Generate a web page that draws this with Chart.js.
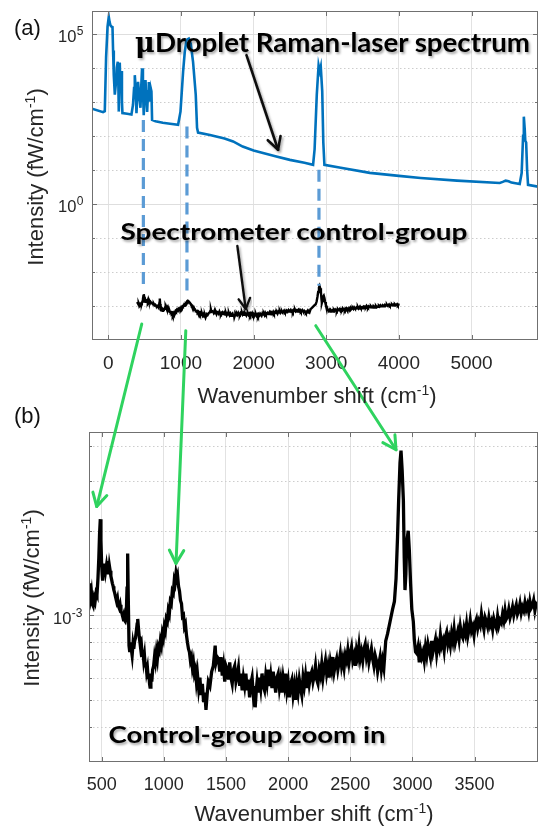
<!DOCTYPE html>
<html>
<head>
<meta charset="utf-8">
<script src="https://cdn.jsdelivr.net/npm/chart.js@4.4.1/dist/chart.umd.min.js"></script>
<style>
  html, body { margin: 0; padding: 0; background: #fff; }
  #wrap { position: relative; width: 540px; height: 828px; overflow: hidden; }
  #wrap canvas { position: absolute; left: 0; }
  #cA { top: 0; }
  #cB { top: 420px; }
  #overlay { position: absolute; left: 0; top: 0; pointer-events: none; }
</style>
</head>
<body>
<div id="wrap">
  <canvas id="cA" width="540" height="420"></canvas>
  <canvas id="cB" width="540" height="408"></canvas>
  <svg id="overlay" xmlns="http://www.w3.org/2000/svg" width="540" height="828">
    <defs>
      <filter id="shadow" x="-10%" y="-40%" width="125%" height="190%">
        <feDropShadow dx="1.5" dy="2" stdDeviation="1.2" flood-color="#000" flood-opacity="0.35"/>
      </filter>
    </defs>
  </svg>
</div>
<script>
// ---- data ----
// (a) microdroplet Raman-laser spectrum, wavenumber shift (cm^-1) and intensity (fW/cm^-1)
const dropletWn = [-224, -72, -48, -30, -10, 7, 18, 30, 45, 58, 66, 76, 90, 103, 117, 131, 138, 145, 152, 158,
  165, 172, 180, 188, 195, 260, 319, 340, 355, 365, 377, 388, 400, 410, 425, 443, 455, 465, 477, 488,
  500, 512, 523, 535, 547, 558, 570, 585, 594, 603, 650, 750, 850, 961, 994, 1030, 1053, 1076, 1090, 1108,
  1120, 1135, 1167, 1204, 1222, 1236, 1400, 1600, 1718, 1850, 2000, 2130, 2300, 2500, 2700, 2819, 2840, 2870, 2895, 2912,
  2925, 2945, 2960, 2975, 3200, 3600, 4000, 4300, 4800, 5388, 5430, 5470, 5510, 5550, 5663, 5690, 5710, 5720, 5732, 5740,
  5752, 5765, 5778, 5915];
const dropletIntensity = [620, 490, 525, 2.0e4, 1.6e5, 3.1e5, 2.2e5, 1.74e5, 1.6e5, 1.55e5, 3.2e4, 6000, 1600, 3100, 1.0e4, 1.48e4, 4000, 510, 3200, 1.4e4,
  4000, 2500, 7900, 1000, 460, 440, 420, 800, 2500, 6000, 2500, 460, 1600, 3800, 1600, 660, 3200, 9500, 2500, 400,
  1600, 4300, 1600, 500, 2000, 3800, 1000, 2450, 2000, 290, 265, 240, 225, 210, 510, 7600, 2.9e4, 6.3e4, 6.8e4, 7.1e4,
  6.0e4, 5.1e4, 1.48e4, 1600, 170, 123, 105, 83, 68, 48, 37, 31, 25, 19.5, 16, 14, 40, 1600, 1.17e4, 7900,
  1.05e4, 2000, 63, 14, 11.5, 8.1, 6.6, 5.75, 4.8, 4.1, 4.4, 4.8, 4.6, 4.2, 3.8, 8, 100, 363, 160, 71,
  63, 10, 3.6, 3.2];

// spectrometer control-group (same trace in (a) and zoomed in (b)), intensity in units of 1e-3 fW/cm^-1
const ctrlWn = [
  398, 405, 412, 418, 425, 432, 440, 447, 455, 462,
  470, 477, 483, 489, 494, 499, 504, 508, 514, 520,
  526, 532, 538, 544, 550, 556, 562, 568, 574, 580,
  586, 592, 598, 605, 612, 620, 627, 634, 641, 648,
  655, 662, 669, 676, 683, 690, 697, 704, 709, 714,
  720, 726, 732, 738, 745, 752, 758, 765, 772, 779,
  785, 790, 796, 802, 808, 814, 820, 826, 832, 838,
  844, 850, 856, 862, 868, 874, 880, 885, 889, 896,
  903, 910, 918, 925, 932, 940, 948, 956, 964, 972,
  980, 988, 996, 1004, 1012, 1020, 1028, 1036, 1044, 1052,
  1060, 1068, 1076, 1084, 1090, 1098, 1104, 1110, 1118, 1126,
  1134, 1142, 1150, 1158, 1166, 1174, 1182, 1190, 1198, 1206,
  1214, 1222, 1230, 1238, 1246, 1254, 1262, 1270, 1280, 1290,
  1300, 1310, 1320, 1330, 1339, 1348, 1358, 1371, 1385, 1398,
  1406, 1413, 1420, 1430, 1440, 1450, 1460, 1470, 1480, 1490,
  1500, 1510, 1520, 1530, 1540, 1550, 1560, 1570, 1580, 1590,
  1600, 1610, 1620, 1630, 1640, 1650, 1660, 1670, 1680, 1690,
  1700, 1710, 1720, 1730, 1735, 1745, 1750, 1760, 1770, 1780,
  1790, 1800, 1810, 1820, 1830, 1840, 1850, 1860, 1870, 1880,
  1890, 1900, 1910, 1920, 1930, 1940, 1950, 1960, 1970, 1980,
  1990, 2000, 2010, 2020, 2030, 2040, 2050, 2060, 2070, 2080,
  2090, 2100, 2110, 2120, 2130, 2140, 2150, 2160, 2170, 2180,
  2190, 2200, 2210, 2220, 2230, 2240, 2250, 2260, 2270, 2280,
  2290, 2300, 2310, 2320, 2330, 2340, 2350, 2360, 2370, 2380,
  2390, 2400, 2410, 2420, 2430, 2440, 2450, 2460, 2470, 2480,
  2490, 2500, 2510, 2520, 2530, 2540, 2550, 2560, 2570, 2580,
  2590, 2600, 2610, 2620, 2630, 2640, 2650, 2660, 2670, 2680,
  2690, 2700, 2710, 2720, 2730, 2740, 2750, 2760, 2770, 2785,
  2800, 2820, 2840, 2855, 2868, 2880, 2889, 2900, 2908, 2917,
  2927, 2934, 2940, 2947, 2954, 2966, 2975, 2985, 2995, 3007,
  3015, 3025, 3035, 3045, 3055, 3065, 3075, 3085, 3095, 3105,
  3115, 3125, 3135, 3145, 3155, 3165, 3175, 3185, 3195, 3205,
  3215, 3225, 3235, 3245, 3255, 3265, 3275, 3285, 3295, 3305,
  3315, 3325, 3335, 3345, 3355, 3365, 3375, 3385, 3395, 3405,
  3415, 3425, 3435, 3445, 3455, 3465, 3475, 3485, 3495, 3505,
  3515, 3525, 3535, 3545, 3555, 3565, 3575, 3585, 3595, 3605,
  3615, 3625, 3635, 3645, 3655, 3665, 3675, 3685, 3695, 3705,
  3715, 3725, 3735, 3745, 3755, 3765, 3775, 3785, 3795, 3805,
  3815, 3825, 3835, 3845, 3855, 3865, 3875, 3885, 3895, 3905,
  3915, 3925, 3935, 3945, 3955, 3965, 3975, 3985, 3995, 4010];
const ctrlIntensityMilli = [
  1.30, 1.22, 1.15, 1.20, 1.10, 1.08, 1.15, 1.12, 1.20, 1.18,
  1.35, 1.60, 1.95, 2.20, 1.85, 1.55, 1.40, 1.33, 1.48, 1.40,
  1.53, 1.44, 1.50, 1.42, 1.56, 1.40, 1.50, 1.44, 1.38, 1.34,
  1.30, 1.27, 1.23, 1.20, 1.16, 1.12, 1.15, 1.08, 1.06, 1.09,
  1.03, 1.02, 0.99, 1.01, 0.96, 0.95, 0.98, 1.25, 1.66, 1.15,
  0.78, 0.74, 0.80, 0.76, 0.72, 0.79, 0.76, 0.81, 0.83, 0.88,
  0.93, 0.97, 0.90, 0.84, 0.80, 0.76, 0.78, 0.72, 0.74, 0.69,
  0.72, 0.66, 0.68, 0.63, 0.65, 0.60, 0.62, 0.57, 0.555, 0.62,
  0.58, 0.64, 0.66, 0.71, 0.68, 0.74, 0.70, 0.77, 0.75, 0.81,
  0.78, 0.86, 0.83, 0.91, 0.88, 0.97, 0.95, 1.04, 1.01, 1.12,
  1.10, 1.22, 1.20, 1.33, 1.30, 1.41, 1.36, 1.39, 1.27, 1.22,
  1.13, 1.10, 0.99, 1.00, 0.91, 0.93, 0.85, 0.80, 0.76, 0.74,
  0.69, 0.71, 0.65, 0.68, 0.62, 0.64, 0.58, 0.62, 0.55, 0.60,
  0.52, 0.57, 0.49, 0.53, 0.46, 0.52, 0.58, 0.56, 0.63, 0.66,
  0.72, 0.78, 0.68, 0.71, 0.70, 0.63, 0.71, 0.61, 0.66, 0.58,
  0.66, 0.64, 0.59, 0.68, 0.60, 0.57, 0.64, 0.66, 0.58, 0.61,
  0.65, 0.56, 0.62, 0.54, 0.60, 0.56, 0.62, 0.54, 0.59, 0.51,
  0.57, 0.60, 0.52, 0.56, 0.47, 0.55, 0.58, 0.53, 0.60, 0.55,
  0.62, 0.56, 0.54, 0.61, 0.57, 0.64, 0.56, 0.61, 0.55, 0.63,
  0.58, 0.53, 0.60, 0.62, 0.55, 0.59, 0.53, 0.60, 0.56, 0.62,
  0.54, 0.58, 0.51, 0.57, 0.59, 0.52, 0.56, 0.50, 0.57, 0.53,
  0.59, 0.55, 0.52, 0.60, 0.56, 0.61, 0.55, 0.63, 0.57, 0.61,
  0.63, 0.58, 0.61, 0.66, 0.59, 0.57, 0.64, 0.61, 0.67, 0.60,
  0.65, 0.69, 0.62, 0.66, 0.60, 0.68, 0.64, 0.71, 0.63, 0.67,
  0.70, 0.64, 0.68, 0.73, 0.66, 0.70, 0.65, 0.72, 0.69, 0.75,
  0.68, 0.73, 0.77, 0.69, 0.72, 0.66, 0.75, 0.71, 0.78, 0.70,
  0.74, 0.69, 0.76, 0.79, 0.71, 0.75, 0.68, 0.72, 0.76, 0.70,
  0.66, 0.72, 0.69, 0.63, 0.67, 0.71, 0.64, 0.69, 0.65, 0.81,
  0.86, 0.95, 1.05, 1.12, 1.35, 1.90, 2.57, 3.50, 3.86, 3.30,
  2.57, 1.60, 1.23, 1.40, 1.82, 2.00, 1.70, 1.30, 1.05, 0.95,
  0.82, 0.74, 0.73, 0.77, 0.68, 0.75, 0.71, 0.74, 0.69, 0.77,
  0.72, 0.79, 0.75, 0.71, 0.81, 0.74, 0.78, 0.82, 0.73, 0.79,
  0.76, 0.85, 0.78, 0.81, 0.75, 0.84, 0.87, 0.79, 0.83, 0.78,
  0.86, 0.81, 0.89, 0.80, 0.84, 0.88, 0.82, 0.91, 0.85, 0.83,
  0.90, 0.86, 0.93, 0.84, 0.89, 0.96, 0.88, 0.91, 0.85, 0.94,
  0.97, 0.90, 0.95, 0.92, 1.01, 0.94, 0.89, 0.98, 0.95, 0.91,
  0.98, 0.92, 0.95, 0.89, 0.97, 0.93, 0.90, 0.99, 0.92, 0.96,
  0.94, 1.01, 0.96, 1.04, 0.97, 0.99, 1.05, 0.98, 1.02, 1.07,
  1.00, 1.05, 1.09, 1.01, 1.04, 1.10, 1.02, 1.07, 1.04, 1.11,
  1.05, 1.09, 1.03, 1.12, 1.06, 1.08, 1.13, 1.04, 1.10, 1.08];

// axis ticks
const xTicksA = [0, 1000, 2000, 3000, 4000, 5000];
const yMajorA = [1, 1e5];
const yMinorA = [1e-3, 1e-2, 1e-1, 10, 100, 1e3, 1e4];
const xTicksB = [500, 1000, 1500, 2000, 2500, 3000, 3500];
const yMajorB = [1e-3];
const yMinorB = [4e-4, 5e-4, 6e-4, 7e-4, 8e-4, 9e-4, 2e-3, 3e-3, 4e-3];

// annotation anchors (in data units)
const guideWn = [483, 1083, 2900];
const guideTop = [288, 186, 10];
const guideBottom = [3.2e-3, 2.75e-3, 3.9e-3];

const AXIS_FONT = '"Liberation Sans", Arial, Helvetica, sans-serif';
const TEXT_COLOR = '#262626';

function toPoints(xs, ys, scale) {
  return xs.map(function(x, i) { return { x: x, y: ys[i] * scale }; });
}

// MATLAB-like box, inward ticks, log grid and 10^n tick labels
function makeAxesPlugin(majorY, minorY, labelGap) {
  return {
    id: 'matlabAxes',
    beforeDatasetsDraw: function(chart) {
      var ctx = chart.ctx, a = chart.chartArea, y = chart.scales.y;
      ctx.save();
      ctx.lineWidth = 1;
      ctx.strokeStyle = '#cdcdcd';
      ctx.setLineDash([1.5, 2.5]);
      minorY.forEach(function(v) {
        var py = Math.round(y.getPixelForValue(v)) + 0.5;
        ctx.beginPath(); ctx.moveTo(a.left, py); ctx.lineTo(a.right, py); ctx.stroke();
      });
      ctx.setLineDash([]);
      ctx.strokeStyle = '#dedede';
      majorY.forEach(function(v) {
        var py = Math.round(y.getPixelForValue(v)) + 0.5;
        ctx.beginPath(); ctx.moveTo(a.left, py); ctx.lineTo(a.right, py); ctx.stroke();
      });
      ctx.restore();
    },
    afterDatasetsDraw: function(chart) {
      var ctx = chart.ctx, a = chart.chartArea, x = chart.scales.x, y = chart.scales.y;
      ctx.save();
      ctx.strokeStyle = '#707070';
      ctx.lineWidth = 1;
      ctx.strokeRect(a.left + 0.5, a.top + 0.5, a.right - a.left - 1, a.bottom - a.top - 1);
      ctx.beginPath();
      x.ticks.forEach(function(t) {
        var px = Math.round(x.getPixelForValue(t.value)) + 0.5;
        ctx.moveTo(px, a.bottom); ctx.lineTo(px, a.bottom - 5);
        ctx.moveTo(px, a.top); ctx.lineTo(px, a.top + 5);
      });
      majorY.forEach(function(v) {
        var py = Math.round(y.getPixelForValue(v)) + 0.5;
        ctx.moveTo(a.left, py); ctx.lineTo(a.left + 5, py);
        ctx.moveTo(a.right, py); ctx.lineTo(a.right - 5, py);
      });
      minorY.forEach(function(v) {
        var py = Math.round(y.getPixelForValue(v)) + 0.5;
        ctx.moveTo(a.left, py); ctx.lineTo(a.left + 3, py);
        ctx.moveTo(a.right, py); ctx.lineTo(a.right - 3, py);
      });
      ctx.stroke();

      // y tick labels as 10 with a raised exponent
      ctx.fillStyle = TEXT_COLOR;
      ctx.textAlign = 'right';
      ctx.textBaseline = 'alphabetic';
      y.ticks.forEach(function(t) {
        var py = y.getPixelForValue(t.value);
        var expo = String(Math.round(Math.log10(t.value)));
        var right = a.left - labelGap;
        ctx.font = '12px ' + AXIS_FONT;
        var ew = ctx.measureText(expo).width;
        ctx.fillText(expo, right, py + 1.5);
        ctx.font = '16.5px ' + AXIS_FONT;
        ctx.fillText('10', right - ew - 0.5, py + 8.5);
      });
      ctx.restore();
    }
  };
}

function makeScales(xMin, xMax, xTicks, xFont, yMin, yMax, yMajor, axisW, axisH) {
  return {
    x: {
      type: 'linear', min: xMin, max: xMax,
      afterBuildTicks: function(s) { s.ticks = xTicks.map(function(v) { return { value: v }; }); },
      afterFit: function(s) { s.height = axisH; s.paddingLeft = 0; s.paddingRight = 0; },
      grid: { color: '#e2e2e2', lineWidth: 1, drawTicks: false },
      border: { display: false },
      ticks: { padding: 12, color: TEXT_COLOR, autoSkip: false, maxRotation: 0,
        font: { family: AXIS_FONT, size: xFont }, callback: function(v) { return String(v); } }
    },
    y: {
      type: 'logarithmic', min: yMin, max: yMax,
      afterBuildTicks: function(s) { s.ticks = yMajor.map(function(v) { return { value: v }; }); },
      afterFit: function(s) { s.width = axisW; s.paddingTop = 0; s.paddingBottom = 0; },
      grid: { display: false, drawTicks: false },
      border: { display: false },
      ticks: { display: false }
    }
  };
}

var common = {
  responsive: false,
  animation: false,
  events: [],
  plugins: { legend: { display: false }, tooltip: { enabled: false } }
};

var chartA = new Chart(document.getElementById('cA'), {
  type: 'line',
  data: {
    datasets: [
      { label: '\u03BCDroplet Raman-laser spectrum', data: toPoints(dropletWn, dropletIntensity, 1),
        borderColor: '#0072BD', borderWidth: 2.6, pointRadius: 0, tension: 0 },
      { label: 'Spectrometer control-group', data: toPoints(ctrlWn, ctrlIntensityMilli, 1e-3),
        borderColor: '#000000', borderWidth: 2.4, pointRadius: 0, tension: 0 }
    ]
  },
  options: Object.assign({}, common, {
    layout: { padding: { top: 11, right: 2, left: 0, bottom: 0 } },
    scales: makeScales(-224, 5915, xTicksA, 19, 1e-4, 4.6e5, yMajorA, 92, 80)
  }),
  plugins: [makeAxesPlugin(yMajorA, yMinorA, 8.5)]
});

var chartB = new Chart(document.getElementById('cB'), {
  type: 'line',
  data: {
    datasets: [
      { label: 'Control-group zoom in', data: toPoints(ctrlWn, ctrlIntensityMilli, 1e-3),
        borderColor: '#000000', borderWidth: 3.3, pointRadius: 0, tension: 0 }
    ]
  },
  options: Object.assign({}, common, {
    layout: { padding: { top: 12, right: 2, left: 0, bottom: 0 } },
    scales: makeScales(398, 4010, xTicksB, 18, 3e-4, 4.5e-3, yMajorB, 89, 66)
  }),
  plugins: [makeAxesPlugin(yMajorB, yMinorB, 6.5)]
});

// ---- overlay: titles, labels, arrows ----
var svg = document.getElementById('overlay');
var NS = 'http://www.w3.org/2000/svg';
var OFFSET_B = 420;

function el(tag, attrs, parent) {
  var n = document.createElementNS(NS, tag);
  Object.keys(attrs).forEach(function(k) { n.setAttribute(k, attrs[k]); });
  (parent || svg).appendChild(n);
  return n;
}
function ptA(wn, v) { return [chartA.scales.x.getPixelForValue(wn), chartA.scales.y.getPixelForValue(v)]; }
function ptB(wn, v) { return [chartB.scales.x.getPixelForValue(wn), chartB.scales.y.getPixelForValue(v) + OFFSET_B]; }

function arrow(p0, p1, color, width, head, extra) {
  var g = el('g', Object.assign({ stroke: color, 'stroke-width': width, fill: 'none',
    'stroke-linecap': 'round', 'stroke-linejoin': 'round' }, extra || {}));
  el('line', { x1: p0[0], y1: p0[1], x2: p1[0], y2: p1[1] }, g);
  var ang = Math.atan2(p1[1] - p0[1], p1[0] - p0[0]) + Math.PI;
  var w1 = [p1[0] + head * Math.cos(ang - 0.5), p1[1] + head * Math.sin(ang - 0.5)];
  var w2 = [p1[0] + head * Math.cos(ang + 0.5), p1[1] + head * Math.sin(ang + 0.5)];
  el('polyline', { points: w1.join(',') + ' ' + p1.join(',') + ' ' + w2.join(',') }, g);
}

function supText(attrs, main, sup, tail) {
  var t = el('text', Object.assign({ 'font-family': AXIS_FONT, 'font-size': 22, fill: TEXT_COLOR }, attrs));
  t.appendChild(document.createTextNode(main));
  var s = el('tspan', { dy: -8, 'font-size': 14 }, t);
  s.textContent = sup;
  var r = el('tspan', { dy: 8 }, t);
  r.textContent = tail;
  return t;
}

// blue dashed guides in (a)
guideWn.forEach(function(wn, i) {
  var p0 = ptA(wn, guideTop[i]), p1 = ptA(wn, guideBottom[i]);
  el('line', { x1: p0[0], y1: p0[1], x2: p1[0], y2: p1[1], stroke: '#5b9bd5', 'stroke-width': 3.2,
    'stroke-dasharray': '12 7' });
});

// green arrows from (a) to (b)
arrow(ptA(461, 2.95e-4), ptB(460, 2.44e-3), '#2fd35f', 3, 15);
arrow(ptA(1067, 1.88e-4), ptB(1098, 1.53e-3), '#2fd35f', 3, 15);
arrow(ptA(2856, 2.63e-4), ptB(2868, 3.89e-3), '#2fd35f', 3, 15);

// black pointer arrows in (a)
arrow(ptA(1902, 2.32e4), ptA(2337, 38.7), '#111', 2.6, 14, { filter: 'url(#shadow)' });
arrow(ptA(1777, 0.0575), ptA(1892, 8.1e-4), '#111', 2.4, 12, { filter: 'url(#shadow)' });

// annotation texts
var mu = el('text', { x: 135, y: 51.5, 'font-family': '"DejaVu Serif", "Liberation Serif", serif',
  'font-size': 27, 'font-weight': 'bold', fill: '#000', filter: 'url(#shadow)' });
mu.textContent = '\u03BC';
var t1 = el('text', { x: 155, y: 51.5, 'font-family': 'Lato, "Open Sans", sans-serif', 'font-size': 26,
  'font-weight': 'bold', fill: '#000', textLength: 375, lengthAdjust: 'spacingAndGlyphs', filter: 'url(#shadow)' });
t1.textContent = 'Droplet Raman-laser spectrum';
var t2 = el('text', { x: 120.5, y: 240, 'font-family': 'Lato, "Open Sans", sans-serif', 'font-size': 22,
  'font-weight': 'bold', fill: '#000', textLength: 347, lengthAdjust: 'spacingAndGlyphs', filter: 'url(#shadow)' });
t2.textContent = 'Spectrometer control-group';
var t3 = el('text', { x: 108.5, y: 743, 'font-family': 'Lato, "Open Sans", sans-serif', 'font-size': 23,
  'font-weight': 'bold', fill: '#000', textLength: 277, lengthAdjust: 'spacingAndGlyphs', filter: 'url(#shadow)' });
t3.textContent = 'Control-group zoom in';

// panel labels
var la = el('text', { x: 14, y: 35, 'font-family': AXIS_FONT, 'font-size': 22, fill: '#111' });
la.textContent = '(a)';
var lb = el('text', { x: 14, y: 423, 'font-family': AXIS_FONT, 'font-size': 22, fill: '#111' });
lb.textContent = '(b)';

// axis titles
supText({ x: 317, y: 403, 'text-anchor': 'middle' }, 'Wavenumber shift (cm', '-1', ')');
supText({ x: 314, y: 821, 'text-anchor': 'middle' }, 'Wavenumber shift (cm', '-1', ')');
supText({ transform: 'translate(42.5,177) rotate(-90)', 'text-anchor': 'middle' }, 'Intensity (fW/cm', '-1', ')');
supText({ transform: 'translate(38.5,598) rotate(-90)', 'text-anchor': 'middle' }, 'Intensity (fW/cm', '-1', ')');
</script>
</body>
</html>
